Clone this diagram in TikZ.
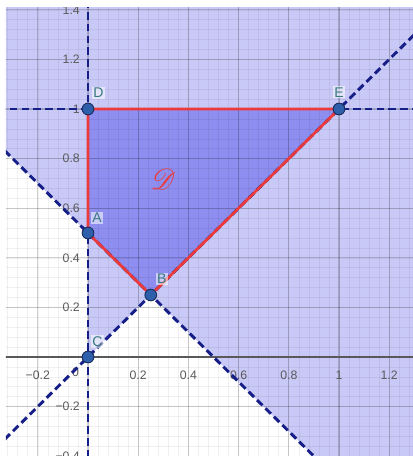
\documentclass[tikz,border=0pt]{standalone}
\usepackage{fontspec}
\setsansfont{Liberation Sans}
\usepackage{amsmath}
\usepackage{mathrsfs}
\usetikzlibrary{positioning,calc}
\definecolor{shadelight}{RGB}{201,201,247}
\definecolor{shadedark}{RGB}{142,142,240}
\definecolor{navyline}{RGB}{22,30,135}
\definecolor{redline}{RGB}{236,58,58}
\definecolor{ptfill}{RGB}{45,95,170}
\definecolor{ptdraw}{RGB}{25,45,95}
\definecolor{ticktext}{RGB}{90,90,90}
\definecolor{ptlabel}{RGB}{55,120,130}
\tikzset{
  bordline/.style={navyline,line width=2.5pt,dash pattern=on 6.5pt off 3.6pt},
  edgeline/.style={redline,line width=2.3pt,line join=round},
  gridminor/.style={black,opacity=0.06,line width=0.5pt},
  gridmajor/.style={black,opacity=0.18,line width=0.9pt},
  axisline/.style={black!65,line width=1.4pt},
  pt/.style={circle,fill=ptfill,draw=ptdraw,line width=0.8pt,minimum size=10pt,inner sep=0pt},
  ptlbl/.style={text=ptlabel,font=\sffamily\fontsize{12}{12}\selectfont,inner sep=1pt,
                fill=white,fill opacity=0.55,text opacity=1},
  ticklbl/.style={text=ticktext,font=\sffamily\fontsize{10.5}{10.5}\selectfont,inner sep=1pt}
}

\begin{document}
\begin{tikzpicture}[x=7.53cm,y=7.44cm]
\useasboundingbox (-0.3506,-0.3992) rectangle (1.2948,1.4395);
\coordinate (pA) at (0,0.5);
\coordinate (pB) at (0.25,0.25);
\coordinate (pC) at (0,0);
\coordinate (pD) at (0,1);
\coordinate (pE) at (1,1);
\begin{scope}
\clip (-0.327,-0.3992) rectangle (1.2948,1.411);
% shaded half-planes
\fill[shadelight] (-0.5,1.5) -- (1.5,1.5) -- (1.5,-0.5) -- (1,-0.5) -- (pB) -- (pC) -- (pA)
  -- (-0.5,1) -- cycle;
\fill[shadedark] (pA) -- (pD) -- (pE) -- (pB) -- cycle;
% grid
\foreach \i in {-9,...,33} \draw[gridminor] (\i*0.04,-0.5) -- (\i*0.04,1.5);
\foreach \j in {-10,...,36} \draw[gridminor] (-0.5,\j*0.04) -- (1.5,\j*0.04);
\foreach \i in {-2,...,6} \draw[gridmajor] (\i*0.2,-0.5) -- (\i*0.2,1.5);
\foreach \j in {-2,...,7} \draw[gridmajor] (-0.5,\j*0.2) -- (1.5,\j*0.2);
\draw[axisline] (-0.5,0) -- (1.5,0);
% tick labels
\foreach \v/\t in {-0.2/−0.2,0.2/0.2,0.4/0.4,0.6/0.6,0.8/0.8,1/1,1.2/1.2}
  \node[ticklbl] (xt\v) at (\v,-0.073) {\t};
\foreach \v/\t in {-0.4/−0.4,-0.2/−0.2,0.2/0.2,0.4/0.4,0.6/0.6,0.8/0.8,1/1,1.2/1.2,1.4/1.4}
  \node[ticklbl,anchor=east] (yt\v) at (-0.027,\v) {\t};
\node[ticklbl] (xt0) at (-0.05,-0.062) {0};
% boundary lines
\coordinate (vTop) at (0,1.5);
\coordinate (vBot) at (0,-0.5);
\coordinate (hL) at (-0.5,1);
\coordinate (hR) at (1.5,1);
\coordinate (dL) at (-0.5,-0.5);
\coordinate (dR) at (1.5,1.5);
\coordinate (aL) at (-0.5,1);
\coordinate (aR) at (1,-0.5);
\draw[bordline] (vBot) -- (vTop);
\draw[bordline] (hL) -- (hR);
\draw[bordline] (dL) -- (dR);
\draw[bordline] (aL) -- (aR);
\end{scope}
% feasible region
\draw[edgeline] (pD) -- (pE) -- (pB) -- (pA) -- cycle;
\node[text=redline,font=\fontsize{27}{27}\selectfont] (dom) at (0.30,0.715) {$\mathscr{D}$};
\node[pt] (A) at (pA) {};
\node[pt] (B) at (pB) {};
\node[pt] (C) at (pC) {};
\node[pt] (D) at (pD) {};
\node[pt] (E) at (pE) {};
\node[ptlbl, above right=0.14cm and -0.045cm of A] (lA) {A};
\node[ptlbl, above right=0.17cm and 0.015cm of B] (lB) {B};
\node[ptlbl, above right=0.14cm and -0.045cm of C] (lC) {C};
\node[ptlbl, above right=0.17cm and -0.015cm of D] (lD) {D};
\node[ptlbl, above=0.12cm of E] (lE) {E};
\end{tikzpicture}
\end{document}
